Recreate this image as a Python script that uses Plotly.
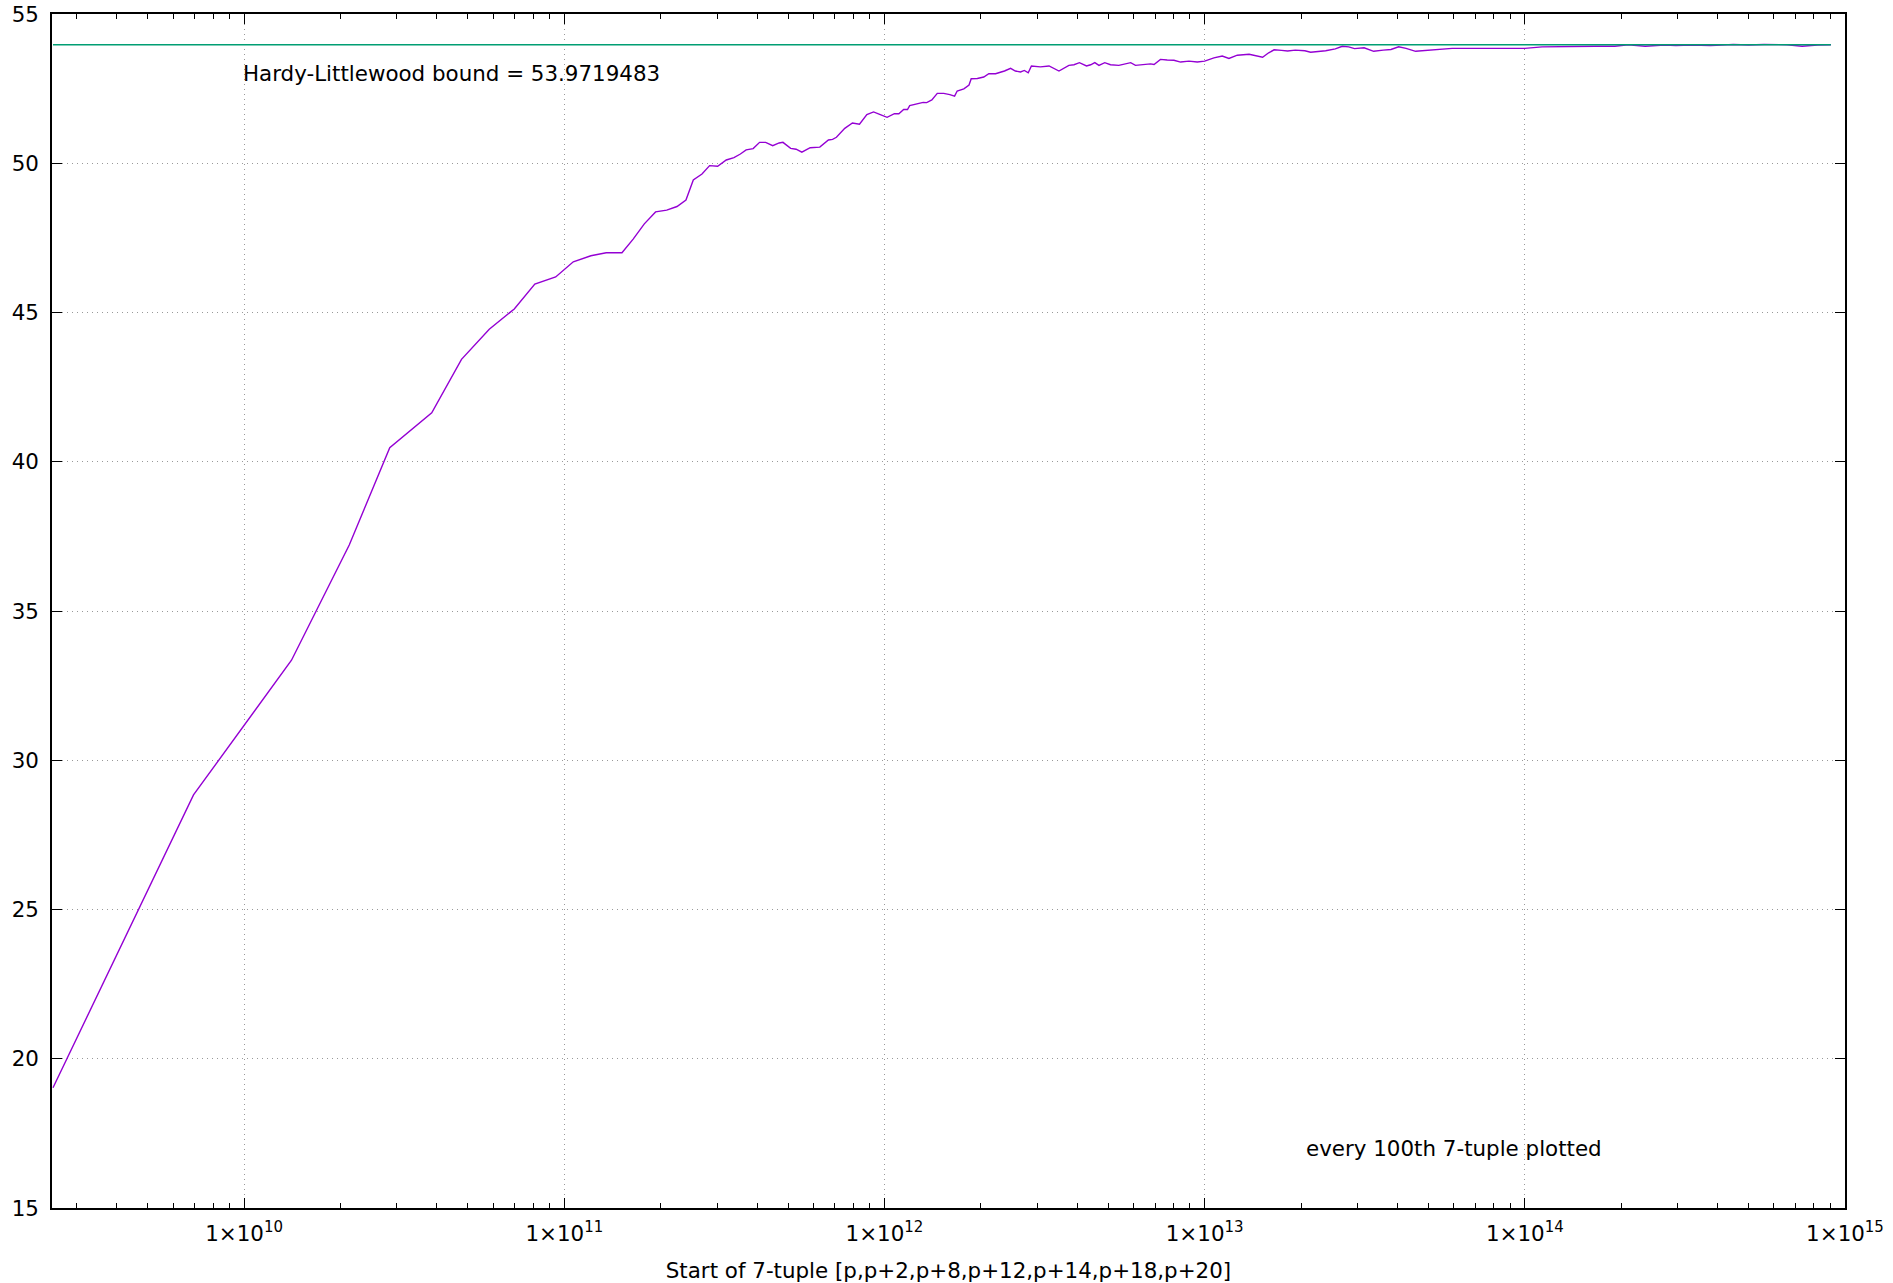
import plotly.graph_objects as go

# Start of 7-tuple (x) and ratio value (y)
start_p = [
    2.53e9, 6.95e9, 1.406e10, 2.13e10, 2.85e10, 3.855e10, 4.775e10, 5.83e10, 6.98e10, 8.09e10,
    9.40e10, 1.067e11, 1.211e11, 1.352e11, 1.514e11, 1.641e11, 1.778e11, 1.928e11, 2.089e11, 2.249e11,
    2.399e11, 2.529e11, 2.692e11, 2.844e11, 3.013e11, 3.206e11, 3.388e11, 3.548e11, 3.698e11, 3.890e11,
    4.074e11, 4.256e11, 4.477e11, 4.688e11, 4.819e11, 5.093e11, 5.297e11, 5.521e11, 5.861e11, 6.281e11,
    6.683e11, 6.887e11, 7.079e11, 7.516e11, 7.943e11, 8.356e11, 8.810e11, 9.247e11, 9.705e11, 1.019e12,
    1.074e12, 1.109e12, 1.148e12, 1.180e12, 1.199e12, 1.259e12, 1.321e12, 1.355e12, 1.406e12, 1.462e12,
    1.531e12, 1.600e12, 1.656e12, 1.687e12, 1.770e12, 1.837e12, 1.866e12, 1.950e12, 2.042e12, 2.118e12,
    2.223e12, 2.301e12, 2.371e12, 2.477e12, 2.564e12, 2.661e12, 2.735e12, 2.812e12, 2.877e12, 3.069e12,
    3.266e12, 3.508e12, 3.631e12, 3.767e12, 3.908e12, 4.064e12, 4.276e12, 4.406e12, 4.539e12, 4.677e12,
    4.875e12, 5.082e12, 5.395e12, 5.662e12, 5.875e12, 6.081e12, 6.457e12, 6.776e12, 6.950e12, 7.278e12,
    7.638e12, 8.017e12, 8.414e12, 8.933e12, 9.484e12, 1.000e13, 1.069e13, 1.135e13, 1.191e13, 1.265e13,
    1.377e13, 1.445e13, 1.517e13, 1.585e13, 1.648e13, 1.738e13, 1.816e13, 1.919e13, 1.995e13, 2.056e13,
    2.143e13, 2.234e13, 2.388e13, 2.559e13, 2.692e13, 2.818e13, 2.938e13, 3.148e13, 3.373e13, 3.614e13,
    3.819e13, 4.036e13, 4.256e13, 4.560e13, 4.887e13, 5.236e13, 5.534e13, 5.929e13, 6.531e13, 7.096e13,
    7.691e13, 8.356e13, 9.078e13, 1.000e14, 1.132e14, 1.265e14, 1.449e14, 1.663e14, 1.910e14, 2.104e14,
    2.377e14, 2.729e14, 2.965e14, 3.311e14, 3.802e14, 4.477e14, 5.000e14, 5.585e14, 6.592e14, 7.345e14,
    8.204e14, 9.036e14,
]
ratio = [
    19.03, 28.84, 33.35, 37.21, 40.47, 41.64, 43.43, 44.44, 45.12, 45.95,
    46.19, 46.70, 46.90, 47.00, 47.00, 47.46, 47.97, 48.37, 48.43, 48.55,
    48.77, 49.44, 49.64, 49.92, 49.90, 50.11, 50.19, 50.31, 50.45, 50.49,
    50.70, 50.70, 50.59, 50.68, 50.70, 50.50, 50.47, 50.37, 50.52, 50.54,
    50.78, 50.80, 50.87, 51.17, 51.35, 51.31, 51.63, 51.72, 51.63, 51.54,
    51.66, 51.66, 51.80, 51.80, 51.93, 51.98, 52.04, 52.03, 52.12, 52.34,
    52.34, 52.30, 52.25, 52.42, 52.49, 52.62, 52.83, 52.84, 52.89, 53.00,
    53.00, 53.05, 53.09, 53.18, 53.09, 53.06, 53.11, 53.03, 53.26, 53.23,
    53.26, 53.09, 53.17, 53.28, 53.30, 53.37, 53.26, 53.30, 53.37, 53.28,
    53.37, 53.30, 53.28, 53.33, 53.37, 53.28, 53.30, 53.33, 53.31, 53.48,
    53.46, 53.45, 53.39, 53.42, 53.39, 53.42, 53.53, 53.59, 53.51, 53.62,
    53.65, 53.59, 53.55, 53.70, 53.80, 53.78, 53.76, 53.79, 53.79, 53.77,
    53.72, 53.74, 53.77, 53.83, 53.92, 53.90, 53.84, 53.87, 53.75, 53.79,
    53.81, 53.90, 53.85, 53.75, 53.77, 53.81, 53.81, 53.85, 53.85, 53.85,
    53.83, 53.85, 53.84, 53.85, 53.90, 53.91, 53.90, 53.92, 53.92, 53.97,
    53.92, 53.96, 53.94, 53.96, 53.94, 53.98, 53.96, 53.98, 53.97, 53.92,
    53.96, 53.97,
]

hl_bound = 53.9719483
x_tick_vals = [1e10, 1e11, 1e12, 1e13, 1e14, 1e15]
x_tick_text = ["1×10<sup>10</sup>", "1×10<sup>11</sup>", "1×10<sup>12</sup>",
               "1×10<sup>13</sup>", "1×10<sup>14</sup>", "1×10<sup>15</sup>"]
x_title = "Start of 7-tuple [p,p+2,p+8,p+12,p+14,p+18,p+20]"
label_bound = "Hardy-Littlewood bound = 53.9719483"
label_every = "every 100th 7-tuple plotted"

FONT = "DejaVu Sans"
FS = 21.4
fig = go.Figure()
fig.add_trace(go.Scatter(x=start_p, y=ratio, mode="lines",
                         line=dict(color="#9400d3", width=1.4), showlegend=False))
fig.add_trace(go.Scatter(x=[start_p[0], start_p[-1]], y=[hl_bound, hl_bound], mode="lines",
                         line=dict(color="#009e73", width=1.5), showlegend=False))

fig.add_annotation(x=10, y=53, xref="x", yref="y", text=label_bound, showarrow=False,
                   xanchor="left", yanchor="middle", xshift=-3,
                   font=dict(family=FONT, size=FS, color="black"))
fig.add_annotation(x=13.301, y=17, xref="x", yref="y", text=label_every, showarrow=False,
                   xanchor="left", yanchor="middle", xshift=3,
                   font=dict(family=FONT, size=FS, color="black"))

axis_common = dict(showline=True, linecolor="black", linewidth=1.5, mirror="allticks",
                   ticks="inside", ticklen=10, tickwidth=1.2, tickcolor="black",
                   showgrid=True, gridcolor="#999999", gridwidth=1.2, griddash="1px,4px",
                   zeroline=False, automargin=False, ticklabeloverflow="allow",
                   tickfont=dict(family=FONT, size=FS, color="black"))

fig.update_xaxes(type="log", range=[9.4, 15], tickvals=x_tick_vals, ticktext=x_tick_text,
                 minor=dict(ticks="inside", ticklen=5, tickwidth=1, tickcolor="black",
                            dtick="D1", showgrid=False),
                 ticklabelstandoff=6,
                 title=dict(text=x_title, font=dict(family=FONT, size=FS, color="black"), standoff=19),
                 **axis_common)
fig.update_yaxes(range=[15, 55], dtick=5, ticklabelstandoff=7, **axis_common)

fig.update_layout(width=1893, height=1283, plot_bgcolor="white", paper_bgcolor="white",
                  margin=dict(l=52, r=48, t=14, b=75, autoexpand=False), font=dict(family=FONT))
fig.write_html("out.html", config={"displayModeBar": False},
               post_script="document.body.style.margin='0px';")
